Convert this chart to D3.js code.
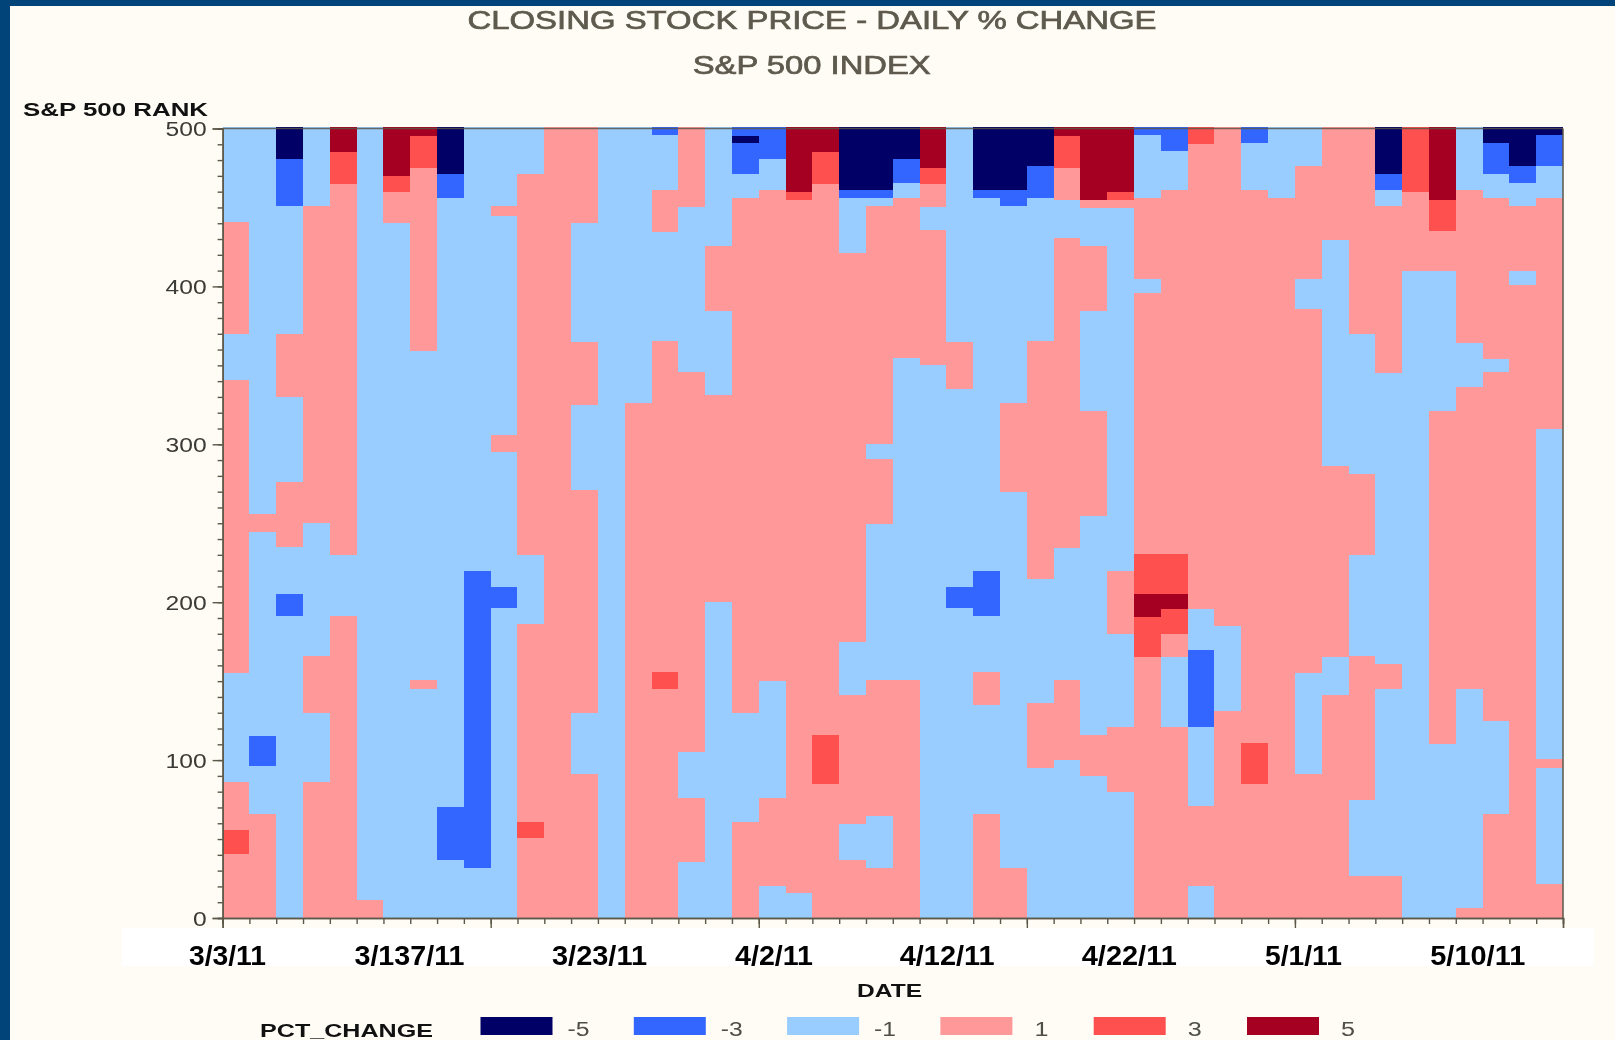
<!DOCTYPE html>
<html><head><meta charset="utf-8">
<script src="https://cdnjs.cloudflare.com/ajax/libs/d3/7.8.5/d3.min.js"></script>
<style>
html,body{margin:0;padding:0;background:#FFFCF5;overflow:hidden}
svg{display:block}
text{font-family:"Liberation Sans",Arial,sans-serif}
.soft{filter:blur(0.5px)}
</style></head><body>
<svg id="c" width="1615" height="1040"></svg>
<script>
// Legend categories
const categories = [-5, -3, -1, 1, 3, 5];
const categoryColors = ["#000066", "#3366FF", "#99CCFF", "#FF9999", "#FF5050", "#A50021"];
// Y ticks, X tick labels
const rankMajor = [0, 100, 200, 300, 400, 500];
const dateLabels = ["3/3/11", "3/137/11", "3/23/11", "4/2/11", "4/12/11", "4/22/11", "5/1/11", "5/10/11"];
const dateLabelColumn = [0.18, 6.97, 14.06, 20.57, 27.03, 33.82, 40.32, 46.82];
const dateLabelWidth = [77, 110, 95, 78, 95, 95, 77, 95];
const columnCount = 50, majorEvery = 10;
const topRank = 501.2;
// For each date column: upper rank of each run, starting at rank 0 (last run reaches the top)
const runTops = [
 [40.5,55.7,86,155,341,370,441],
 [66,96.5,115,244.5,256],
 [191,205,235,276,330,370,451,481],
 [86,130,166,250,451],
 [191,230,465,485],
 [11.6],
 [440,460,470],
 [145,151,359.3,475,495],
 [36.7,70,455.7,471],
 [31.6,219.6],
 [196.4,209.5,295,306,444.7,451],
 [50.8,60.8,186,229.7,471],
 [],
 [91,130,271,325,365,440],
 [],
 [326],
 [145,156,365.4,434.6,461,496],
 [35.6,75.7,105,346,450],
 [200.4,331,384.4,425.7],
 [60.8,130,455.7,471,491,495],
 [20.5,75.7,150,461,481],
 [15.6,454.6,460],
 [84.8,116,465,485],
 [36.7,59.7,141,175,420.9,455.7,461],
 [31.6,64.8,151,249.8,291,300,451,455.7,461],
 [151,354.4,455.7,465.8,481],
 [350,436,450,465,475],
 [196.4,209.5,335,365],
 [65.8,135,156,191.4,219.6,455.7,461],
 [31.6,270,326,451,461],
 [95,135.9,214.6,365.4,455.7,476],
 [100,151,234.6,430.8,454.9,475,495],
 [89.9,116,254.8,321.3,384.4,425.7,449.8,454.9],
 [79.7,121,180,220,449.8,454.9,460],
 [165,190.5,205.5,230.8,395.6,404.4,455.7,496],
 [121,165,180,195.4,205.5,230.8,461,486],
 [20.5,70.9,121,170,195.4,490],
 [131,185],
 [84.8,111,461,491],
 [455.7],
 [91,155,385.4,404.4,476],
 [141,165,286,429.7],
 [26.6,74.7,166,229.7,281,369.6],
 [26.6,145,161,345.4,451,461,471],
 [409.5,460],
 [110,321.3,409.5,434.8,454.9],
 [6.5,145,336,364.4,461],
 [65.8,125,346,354.2,455.7,471,491],
 [400.6,409.5,451,465.8,476],
 [21.5,95,100.8,310,455.7,476,496]
];
// Matching % change class of each run
const runValues = [
 [1,3,1,-1,1,-1,1,-1],
 [1,-1,-3,-1,1,-1],
 [-1,-3,-1,1,-1,1,-1,-3,-5],
 [1,-1,1,-1,1,-1],
 [1,-1,1,3,5],
 [1,-1],
 [-1,1,3,5],
 [-1,1,-1,1,3,5],
 [-1,-3,-1,-3,-5],
 [-1,-3,-1],
 [-1,-3,-1,1,-1,1,-1],
 [1,3,1,-1,1,-1],
 [1],
 [1,-1,1,-1,1,-1,1],
 [-1],
 [1,-1],
 [1,3,1,-1,1,-1,-3],
 [-1,1,-1,1,-1,1],
 [-1,1,-1,1,-1],
 [1,-1,1,-1,-3,-5,-3],
 [-1,1,-1,1,-1,-3],
 [-1,1,3,5],
 [1,3,1,3,5],
 [1,-1,1,-1,1,-1,-3,-5],
 [1,-1,1,-1,1,-1,1,-1,-3,-5],
 [1,-1,1,-1,-3,-5],
 [-1,1,-1,1,3,5],
 [-1,-3,-1,1,-1],
 [1,-1,1,-1,-3,-1,-3,-5],
 [1,-1,1,-1,-3,-5],
 [-1,1,-1,1,-1,-3,-5],
 [-1,1,-1,1,-1,1,3,5],
 [-1,1,-1,1,-1,1,-1,1,5],
 [-1,1,-1,1,-1,1,3,5],
 [1,3,5,3,1,-1,1,-1,-3],
 [1,-1,1,3,5,3,1,-1,-3],
 [-1,1,-1,-3,-1,1,3],
 [1,-1,1],
 [1,3,1,-1,-3],
 [1,-1],
 [1,-1,1,-1,1,-1],
 [1,-1,1,-1,1],
 [1,-1,1,-1,1,-1,1],
 [1,-1,1,-1,1,-1,-3,-5],
 [-1,1,3],
 [-1,1,-1,1,3,5],
 [1,-1,1,-1,1,-1],
 [1,-1,1,-1,1,-1,-3,-5],
 [1,-1,1,-1,-3,-5],
 [1,-1,1,-1,1,-1,-3,-5]
];

const svg = d3.select("#c");
const x = d3.scaleLinear().domain([0, columnCount]).range([222.6, 1563]);
const y = d3.scaleLinear().domain([0, 500]).range([918, 128.5]);
const color = d3.scaleOrdinal().domain(categories).range(categoryColors);

// page frame
svg.append("rect").attr("width", 1615).attr("height", 6).attr("fill", "#00447A");
svg.append("rect").attr("width", 10).attr("height", 1040).attr("fill", "#00447A");

// cells
const cells = [];
runTops.forEach((tops, c) => {
  let lo = 0;
  runValues[c].forEach((v, i) => {
    const hi = i < tops.length ? tops[i] : topRank;
    cells.push({c, lo, hi, v});
    lo = hi;
  });
});
svg.append("g").attr("shape-rendering", "crispEdges").selectAll("rect").data(cells).join("rect")
  .attr("x", d => x(d.c)).attr("width", d => x(d.c + 1) - x(d.c))
  .attr("y", d => y(d.hi)).attr("height", d => y(d.lo) - y(d.hi))
  .attr("fill", d => color(d.v));

const axisColor = "#5c5748";
// frame lines top / right
svg.append("line").attr("x1", x(0)).attr("x2", x(columnCount)).attr("y1", y(500)).attr("y2", y(500))
  .attr("stroke", axisColor).attr("stroke-width", 1.5).attr("opacity", .85);
svg.append("line").attr("x1", x(columnCount)).attr("x2", x(columnCount)).attr("y1", y(500)).attr("y2", y(0))
  .attr("stroke", axisColor).attr("stroke-width", 1.5);

// y axis
const yMinor = d3.axisLeft(y).tickValues(d3.range(0, 501, 10)).tickSize(5).tickFormat("");
const yMajor = d3.axisLeft(y).tickValues(rankMajor).tickSize(10).tickPadding(6);
const gyMinor = svg.append("g").attr("transform", `translate(${x(0)},0)`).call(yMinor);
const gyMajor = svg.append("g").attr("transform", `translate(${x(0)},0)`).call(yMajor);
// x axis
const xMinor = d3.axisBottom(x).tickValues(d3.range(0, columnCount + 1)).tickSize(6).tickFormat("");
const xMajor = d3.axisBottom(x).tickValues(d3.range(0, columnCount + 1, majorEvery)).tickSize(10).tickFormat("");
const gxMinor = svg.append("g").attr("transform", `translate(0,${y(0)})`).call(xMinor);
const gxMajor = svg.append("g").attr("transform", `translate(0,${y(0)})`).call(xMajor);
[gyMinor, gyMajor, gxMinor, gxMajor].forEach(g => {
  g.selectAll("path,line").attr("stroke", axisColor).attr("stroke-width", 1.4);
});
gyMajor.selectAll("text").attr("font-size", 20).attr("fill", "#3a3a36")
  .attr("font-family", "Liberation Sans").attr("dy", "0.36em")
  .attr("class", "soft")
  .attr("textLength", d => String(d).length * 13.7)
  .attr("lengthAdjust", "spacingAndGlyphs");

// white strip behind date labels
svg.append("rect").attr("x", 122).attr("y", 928).attr("width", 1472).attr("height", 38).attr("fill", "#FFFFFF");

const soft = svg.append("g").attr("class", "soft");
soft.selectAll(".dl").data(dateLabels).join("text").attr("class", "dl")
  .attr("x", (d, i) => x(dateLabelColumn[i])).attr("y", 964.5)
  .attr("text-anchor", "middle").attr("font-size", 27.5).attr("font-weight", 700).attr("fill", "#000")
  .attr("textLength", (d, i) => dateLabelWidth[i]).attr("lengthAdjust", "spacingAndGlyphs")
  .text(d => d);

function label(t, xLeft, base, w, size, bold, fill, sw) {
  soft.append("text").attr("x", xLeft).attr("y", base).attr("font-size", size)
    .attr("font-weight", bold ? 700 : 400).attr("fill", fill)
    .attr("stroke", sw ? fill : "none").attr("stroke-width", sw || 0)
    .attr("textLength", w).attr("lengthAdjust", "spacingAndGlyphs").text(t);
}
label("CLOSING STOCK PRICE - DAILY % CHANGE", 467.5, 29.3, 689, 26, false, "#5f5a4e", 0.7);
label("S&P 500 INDEX", 692.7, 74, 238, 26, false, "#5f5a4e", 0.7);
label("S&P 500 RANK", 23, 115.5, 185, 18.5, true, "#111");
label("DATE", 857, 996.7, 65, 19, true, "#111");
label("PCT_CHANGE", 260, 1036.5, 173, 18.5, true, "#111");

// legend
const legendX = d3.scaleLinear().domain([0, 5]).range([480.5, 1247]);
const legend = svg.append("g").selectAll("g").data(categories).join("g");
legend.append("rect").attr("x", (d, i) => legendX(i)).attr("y", 1017).attr("width", 72).attr("height", 18)
  .attr("fill", d => color(d));
soft.selectAll(".ll").data(categories).join("text").attr("class", "ll")
  .attr("x", (d, i) => legendX(i) + 87 + (d > 0 ? 7 : 0)).attr("y", 1035.5).attr("font-size", 20).attr("fill", "#4f4f4a")
  .attr("textLength", d => d < 0 ? 22 : 14).attr("lengthAdjust", "spacingAndGlyphs")
  .text(d => d);
</script>
</body></html>
